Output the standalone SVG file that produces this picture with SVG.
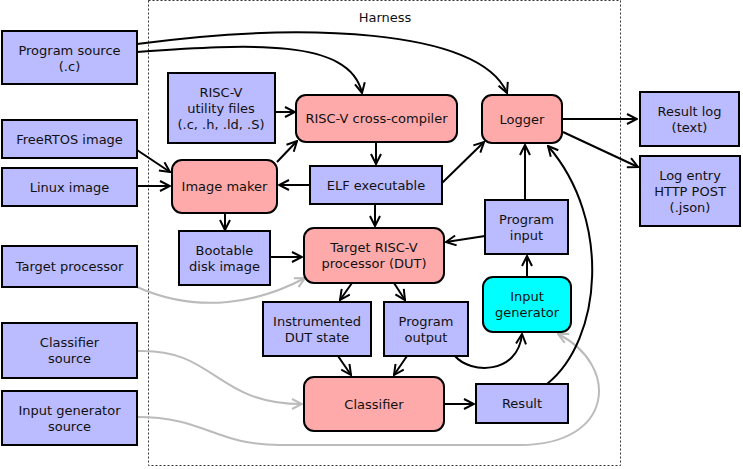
<svg xmlns="http://www.w3.org/2000/svg" width="743" height="469" viewBox="0 0 743 469">
<defs>
<marker id="a" viewBox="0 0 12 12" refX="11" refY="6" markerWidth="12" markerHeight="12" markerUnits="userSpaceOnUse" orient="auto">
<path d="M1,1 L11,6 L1,11" fill="none" stroke="#000" stroke-width="2"/>
</marker>
<marker id="g" viewBox="0 0 12 12" refX="11" refY="6" markerWidth="12" markerHeight="12" markerUnits="userSpaceOnUse" orient="auto">
<path d="M1,1 L11,6 L1,11" fill="none" stroke="#bbb" stroke-width="2"/>
</marker>
</defs>
<style>
text{font-family:"DejaVu Sans",sans-serif;font-size:13px;fill:#111;text-anchor:middle}
.b{fill:#bbbbff;stroke:#000;stroke-width:2}
.p{fill:#ffaaaa;stroke:#000;stroke-width:2}
.c{fill:#00ffff;stroke:#000;stroke-width:2}
.e{fill:none;stroke:#000;stroke-width:2;marker-end:url(#a)}
.f{fill:none;stroke:#bbb;stroke-width:2;marker-end:url(#g)}
</style>
<rect width="743" height="469" fill="#fff"/>
<g id="harness">
<rect x="148.5" y="0.5" width="472" height="465" fill="none" stroke="#333" stroke-width="1" stroke-dasharray="2,2"/>
<text x="385" y="21.5">Harness</text>
</g>
<g id="connectors">
<path class="e" d="M137,52 C250,44 350,38 362,93"/>
<path class="e" d="M137,44 C300,22 480,28 507,93"/>
<path class="e" d="M275,112 L295,112"/>
<path class="e" d="M277,162 L297,141"/>
<path class="e" d="M376,143 L376,164"/>
<path class="e" d="M310,185 L279,185"/>
<path class="e" d="M442,183 L484,142"/>
<path class="e" d="M375,204 L375,226"/>
<path class="e" d="M137,150 L170,172"/>
<path class="e" d="M137,186 L170,186"/>
<path class="e" d="M225,213 L225,230"/>
<path class="e" d="M270,257 L302,257"/>
<path class="f" d="M137,287 C200,315 260,302 305,278"/>
<path class="e" d="M485,236 L446,242"/>
<path class="e" d="M352,283 L340,300"/>
<path class="e" d="M394,283 L405,300"/>
<path class="e" d="M338,356 L351,375"/>
<path class="e" d="M407,356 L394,375"/>
<path class="f" d="M137,351 C215,348 215,404 302,404"/>
<path class="f" d="M137,417 C205,417 215,445 280,445 L520,445 C615,445 620,365 558,334"/>
<path class="e" d="M444,404 L474,404"/>
<path class="e" d="M455,356 C470,374 518,375 522,334"/>
<path class="e" d="M527,277 L527,256"/>
<path class="e" d="M525,200 L525,145"/>
<path class="e" d="M547,384 C602,340 612,220 548,146"/>
<path class="e" d="M562,119 L637,119"/>
<path class="e" d="M563,132 L638,167"/>
</g>
<g id="program-source"><rect class="b" x="2" y="31" width="135" height="53"/><text x="69.5" y="54.5">Program source</text><text x="69.5" y="70.5">(.c)</text></g>
<g id="freertos-image"><rect class="b" x="2" y="120" width="135" height="38"/><text x="69.5" y="143.5">FreeRTOS image</text></g>
<g id="linux-image"><rect class="b" x="2" y="168" width="135" height="38"/><text x="69.5" y="191.5">Linux image</text></g>
<g id="target-processor"><rect class="b" x="2" y="246" width="135" height="41"/><text x="69.5" y="271">Target processor</text></g>
<g id="classifier-source"><rect class="b" x="2" y="323" width="135" height="55"/><text x="69.5" y="347">Classifier</text><text x="69.5" y="363">source</text></g>
<g id="input-generator-source"><rect class="b" x="2" y="391" width="135" height="54"/><text x="69.5" y="414.5">Input generator</text><text x="69.5" y="430.5">source</text></g>
<g id="riscv-utility-files"><rect class="b" x="168" y="73" width="107" height="70"/><text x="221" y="96.5">RISC-V</text><text x="221" y="112.5">utility files</text><text x="221" y="128.5">(.c, .h, .ld, .S)</text></g>
<g id="cross-compiler"><rect class="p" x="296" y="95" width="161" height="47" rx="10"/><text x="376.5" y="123">RISC-V cross-compiler</text></g>
<g id="logger"><rect class="p" x="482" y="95" width="80" height="48" rx="10"/><text x="522" y="123.5">Logger</text></g>
<g id="result-log"><rect class="b" x="640" y="92" width="99" height="54"/><text x="689.5" y="115.5">Result log</text><text x="689.5" y="131.5">(text)</text></g>
<g id="log-entry"><rect class="b" x="640" y="156" width="100" height="70"/><text x="690" y="179.5">Log entry</text><text x="690" y="195.5">HTTP POST</text><text x="690" y="211.5">(.json)</text></g>
<g id="image-maker"><rect class="p" x="172" y="160" width="105" height="53" rx="10"/><text x="224.5" y="190.5">Image maker</text></g>
<g id="elf-executable"><rect class="b" x="310" y="166" width="132" height="38"/><text x="376" y="189.5">ELF executable</text></g>
<g id="bootable-disk-image"><rect class="b" x="179" y="231" width="91" height="54"/><text x="224.5" y="254.5">Bootable</text><text x="224.5" y="270.5">disk image</text></g>
<g id="dut"><rect class="p" x="304" y="228" width="140" height="55" rx="10"/><text x="374" y="252">Target RISC-V</text><text x="374" y="268">processor (DUT)</text></g>
<g id="program-input"><rect class="b" x="485" y="200" width="83" height="54"/><text x="526.5" y="223.5">Program</text><text x="526.5" y="239.5">input</text></g>
<g id="input-generator"><rect class="c" x="483" y="277" width="88" height="55" rx="10"/><text x="527" y="301">Input</text><text x="527" y="317">generator</text></g>
<g id="instrumented-dut-state"><rect class="b" x="263" y="302" width="108" height="54"/><text x="317" y="325.5">Instrumented</text><text x="317" y="341.5">DUT state</text></g>
<g id="program-output"><rect class="b" x="384" y="302" width="84" height="54"/><text x="426" y="325.5">Program</text><text x="426" y="341.5">output</text></g>
<g id="classifier"><rect class="p" x="304" y="377" width="140" height="54" rx="10"/><text x="374" y="408.5">Classifier</text></g>
<g id="result"><rect class="b" x="476" y="384" width="92" height="39"/><text x="522" y="408">Result</text></g>
</svg>
